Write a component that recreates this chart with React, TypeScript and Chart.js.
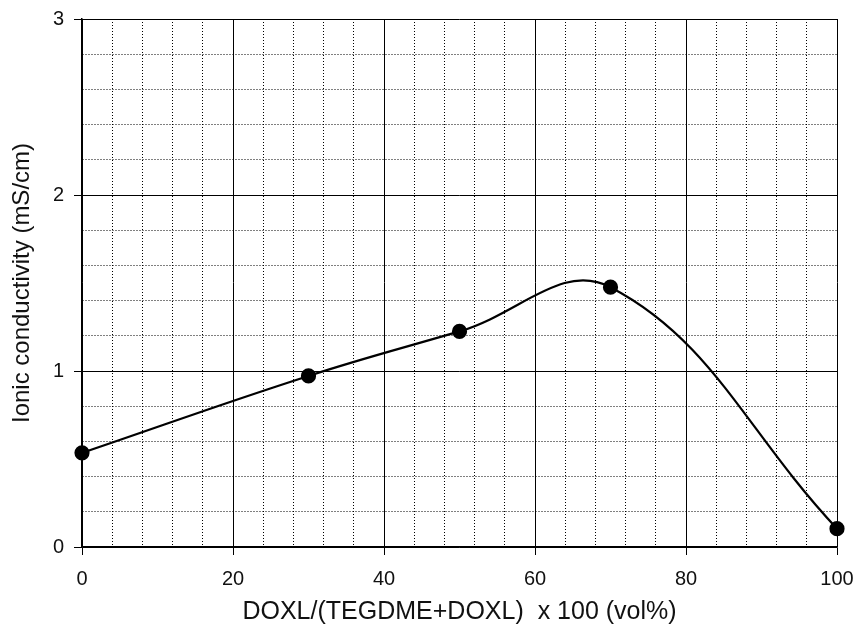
import React, { useEffect, useRef } from "react";
import { Chart, registerables } from "chart.js";

Chart.register(...registerables);

const xValues = [0, 30, 50, 70, 100];
const yValues = [0.535, 0.972, 1.225, 1.476, 0.104];
const xTitle = "DOXL/(TEGDME+DOXL)  x 100 (vol%)";
const yTitle = "Ionic conductivity (mS/cm)";
const xMajorTicks = [0, 20, 40, 60, 80, 100];
const yMajorTicks = [0, 1, 2, 3];

const FONT = "'Liberation Sans', Arial, Helvetica, sans-serif";

const isMajorX = (v: number) => xMajorTicks.some((m) => Math.abs(m - v) < 1e-6);
const isMajorY = (v: number) => yMajorTicks.some((m) => Math.abs(m - v) < 1e-6);

export default function App() {
  const ref = useRef<HTMLCanvasElement | null>(null);

  useEffect(() => {
    document.body.style.margin = "0";
    const canvas = ref.current;
    if (!canvas) return;
    const chart = new Chart(canvas, {
      type: "line",
      data: {
        datasets: [
          {
            data: xValues.map((x, i) => ({ x, y: yValues[i] })),
            borderColor: "#000",
            backgroundColor: "#000",
            borderWidth: 2.2,
            pointRadius: 6.5,
            pointHoverRadius: 6.5,
            pointBackgroundColor: "#000",
            pointBorderColor: "#000",
            tension: 0.4,
            fill: false,
            clip: false as any,
          },
        ],
      },
      options: {
        animation: false,
        responsive: false,
        maintainAspectRatio: false,
        layout: { padding: { top: 19, right: 18, left: 0, bottom: 0 } },
        plugins: { legend: { display: false }, tooltip: { enabled: false } },
        scales: {
          x: {
            type: "linear",
            min: 0,
            max: 100,
            afterFit: (scale: any) => {
              scale.height = 79;
              scale.paddingLeft = 0;
              scale.paddingRight = 0;
            },
            ticks: {
              stepSize: 4,
              autoSkip: false,
              maxRotation: 0,
              padding: 12,
              color: "#111",
              font: { family: FONT, size: 20 },
              callback: (v: any) => (isMajorX(Number(v)) ? String(Math.round(Number(v))) : ""),
            },
            grid: {
              color: "#000",
              lineWidth: 1,
              tickLength: 8,
              tickColor: (ctx: any) => (ctx.tick && isMajorX(ctx.tick.value) ? "#000" : "rgba(0,0,0,0)"),
            },
            border: {
              display: true,
              color: "#000",
              width: 1.5,
              dash: (ctx: any) => (ctx.tick && !isMajorX(ctx.tick.value) ? [1, 2] : []),
            } as any,
            title: {
              display: true,
              text: xTitle,
              color: "#111",
              font: { family: FONT, size: 25, lineHeight: 1 },
              padding: { top: 0, bottom: 1 },
            },
          },
          y: {
            type: "linear",
            min: 0,
            max: 3,
            afterFit: (scale: any) => {
              scale.width = 82;
              scale.paddingTop = 0;
              scale.paddingBottom = 0;
            },
            ticks: {
              stepSize: 0.2,
              autoSkip: false,
              padding: 10,
              color: "#111",
              font: { family: FONT, size: 20 },
              callback: (v: any) => (isMajorY(Number(v)) ? String(Math.round(Number(v))) : ""),
            },
            grid: {
              color: "#000",
              lineWidth: 1,
              tickLength: 8,
              tickColor: (ctx: any) => (ctx.tick && isMajorY(ctx.tick.value) ? "#000" : "rgba(0,0,0,0)"),
            },
            border: {
              display: true,
              color: "#000",
              width: 1.5,
              dash: (ctx: any) => (ctx.tick && !isMajorY(ctx.tick.value) ? [1, 2] : []),
            } as any,
            title: {
              display: true,
              text: yTitle,
              color: "#111",
              font: { family: FONT, size: 24, lineHeight: 1 },
              padding: { top: 10, bottom: 0 },
            },
          },
        },
      },
    });
    return () => chart.destroy();
  }, []);

  return (
    <div style={{ width: 855, height: 626, background: "#fff" }}>
      <canvas ref={ref} width={855} height={626} style={{ display: "block", width: 855, height: 626 }} />
    </div>
  );
}
